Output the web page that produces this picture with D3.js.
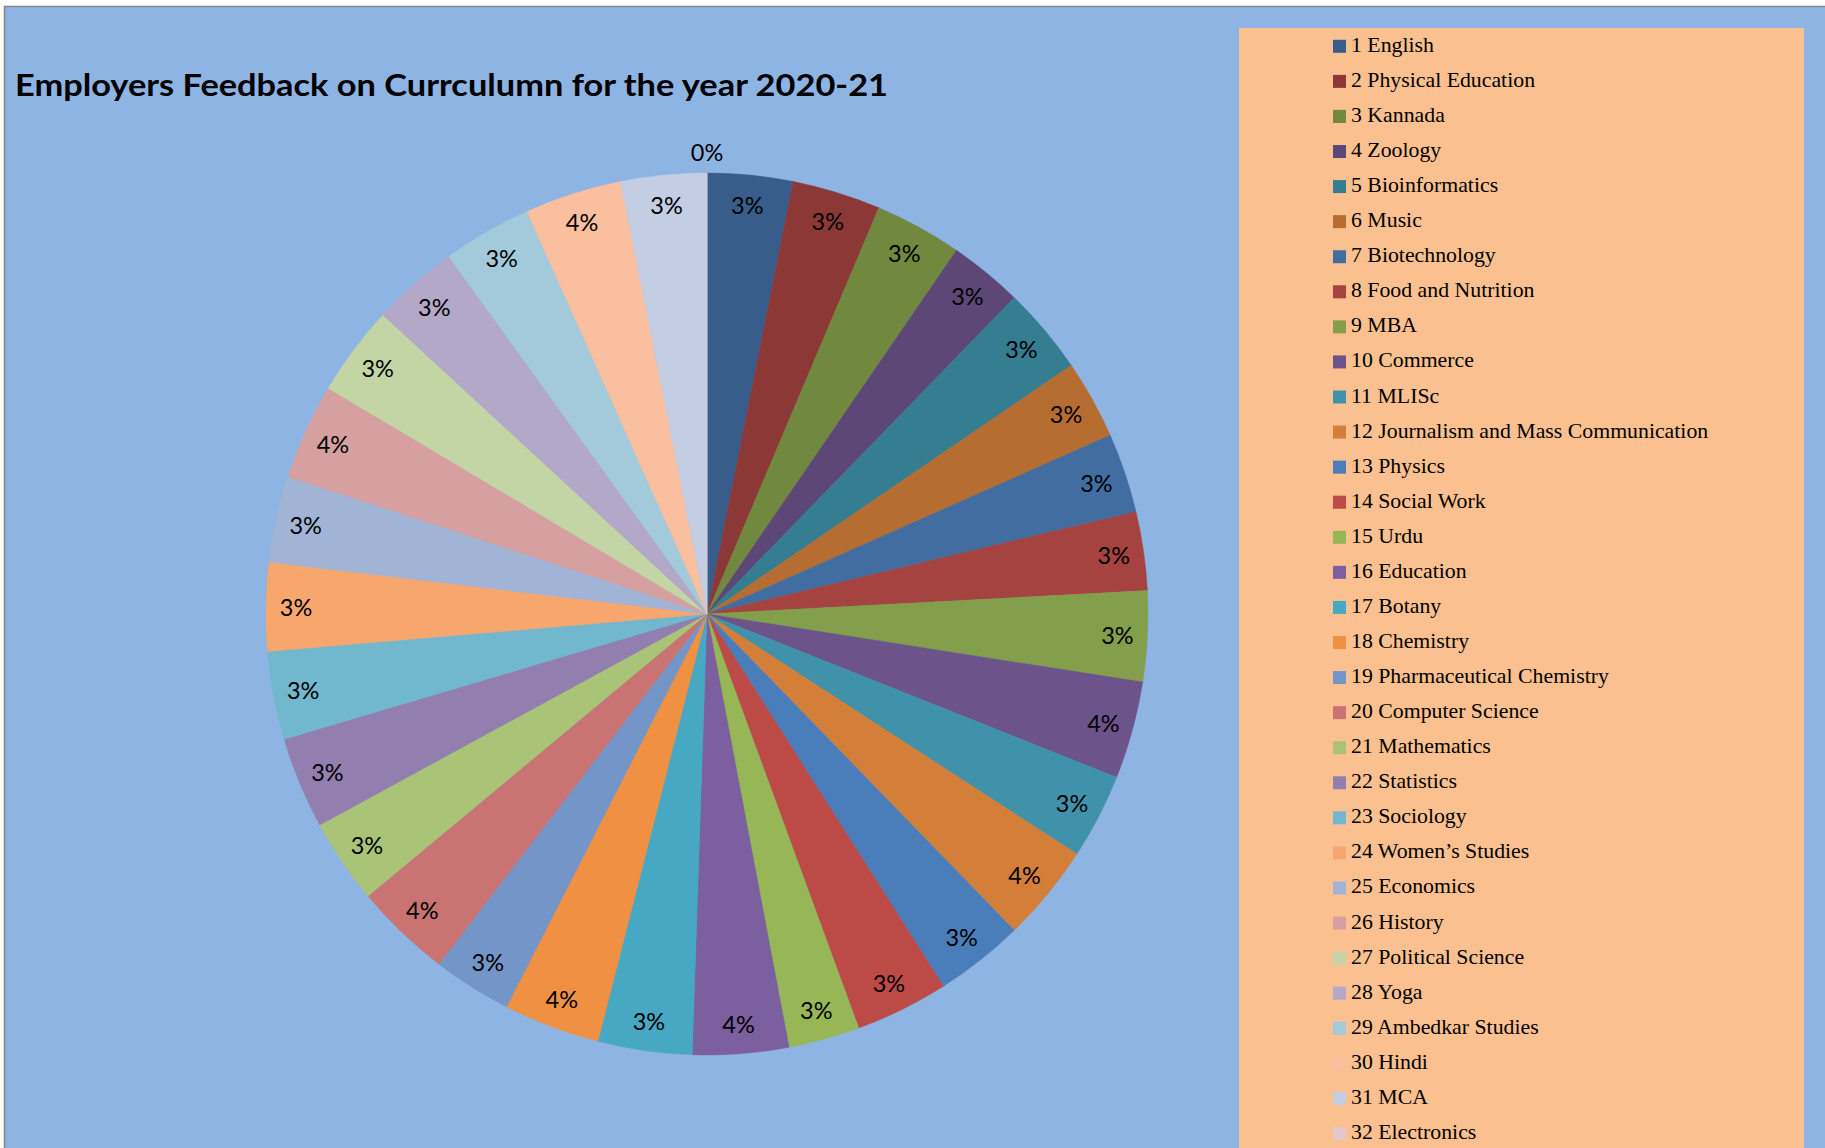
<!DOCTYPE html>
<html>
<head>
<meta charset="utf-8">
<script src="https://cdn.jsdelivr.net/npm/d3@7"></script>
<style>
  html, body { margin: 0; padding: 0; background: #ffffff; }
  svg { display: block; }
</style>
</head>
<body>
<svg id="chart" width="1825" height="1148"></svg>
<script>
// ---- data ----
const titleText = "Employers Feedback on Currculumn for the year 2020-21";
const categories = [
  "1 English", "2 Physical Education", "3 Kannada", "4 Zoology", "5 Bioinformatics",
  "6 Music", "7 Biotechnology", "8 Food and Nutrition", "9 MBA", "10 Commerce",
  "11 MLISc", "12 Journalism and Mass Communication", "13 Physics", "14 Social Work",
  "15 Urdu", "16 Education", "17 Botany", "18 Chemistry", "19 Pharmaceutical Chemistry",
  "20 Computer Science", "21 Mathematics", "22 Statistics", "23 Sociology",
  "24 Women\u2019s Studies", "25 Economics", "26 History", "27 Political Science",
  "28 Yoga", "29 Ambedkar Studies", "30 Hindi", "31 MCA", "32 Electronics"
];
const values = [
  11.26, 11.68, 11.52, 9.71, 11.51, 10.43, 10.48, 10.38, 11.93, 12.85,
  11.25, 12.85, 11.75, 12.30, 9.40, 12.65, 12.40, 12.72, 10.40, 12.80,
  11.18, 12.08, 11.62, 11.65, 11.40, 12.65, 11.90, 11.45, 11.75, 12.80,
  11.30, 0
];
const colors = [
  "#385D8A", "#8C3836", "#71893F", "#5C4776", "#357D91", "#B66D31", "#426DA1", "#A44340",
  "#849F4B", "#6C548A", "#3F92A9", "#D37F3A", "#4A7EBB", "#BC4B48", "#97B655", "#7C5F9E",
  "#46A8C2", "#EF9042", "#7495C7", "#C97472", "#A9C476", "#927FAF", "#71B7CE", "#F7A76E",
  "#A2B4D6", "#D7A0A0", "#C3D5A5", "#B3A8C7", "#A2CADB", "#F9BF9F", "#C3CDE3", "#E3C7CB"
];

// ---- layout ----
const svg = d3.select("#chart");
const cx = 707, cy = 614, R = 441;

svg.append("rect")
  .attr("x", 4.5).attr("y", 6.5)
  .attr("width", 1830).attr("height", 1150)
  .attr("fill", "#8EB4E3")
  .attr("stroke", "#868686").attr("stroke-width", 1.5);

// title
svg.append("text")
  .attr("x", 15).attr("y", 96)
  .attr("font-family", "Lato, 'Open Sans', sans-serif")
  .attr("font-weight", 700)
  .attr("font-size", 30.5)
  .attr("textLength", 873)
  .attr("lengthAdjust", "spacingAndGlyphs")
  .attr("fill", "#000")
  .text(titleText);

// pie
const total = d3.sum(values);
const pie = d3.pie().sort(null).value(d => d).startAngle(0).endAngle(2 * Math.PI);
const arcs = pie(values);
const arc = d3.arc().innerRadius(0).outerRadius(R);
const labelArc = d3.arc().innerRadius(411).outerRadius(411);
const outerLabelArc = d3.arc().innerRadius(R + 21).outerRadius(R + 21);
const color = d3.scaleOrdinal().domain(categories).range(colors);

const g = svg.append("g").attr("transform", `translate(${cx},${cy})`);
g.selectAll("path.slice")
  .data(arcs)
  .join("path")
  .attr("class", "slice")
  .attr("d", arc)
  .attr("fill", (d, i) => color(categories[i]))
  .attr("stroke", (d, i) => color(categories[i]))
  .attr("stroke-width", 0.5);

g.selectAll("text.lbl")
  .data(arcs)
  .join("text")
  .attr("class", "lbl")
  .attr("transform", d => {
    const c = (d.value === 0 ? outerLabelArc : labelArc).centroid(d);
    return `translate(${c[0]},${c[1]})`;
  })
  .attr("text-anchor", "middle")
  .attr("dominant-baseline", "central")
  .attr("font-family", "Lato, 'Open Sans', sans-serif")
  .attr("font-size", 23.5)
  .attr("fill", "#000")
  .text(d => Math.round(d.value / total * 100) + "%");

// legend
const legX = 1239, legY = 28, legW = 565;
svg.append("rect")
  .attr("x", legX).attr("y", legY)
  .attr("width", legW).attr("height", 1200)
  .attr("fill", "#FAC090");

const rowY = d3.scaleLinear().domain([0, categories.length - 1]).range([46.3, 46.3 + 35.07 * 31]);
const leg = svg.append("g");
const items = leg.selectAll("g.item")
  .data(categories)
  .join("g")
  .attr("class", "item")
  .attr("transform", (d, i) => `translate(0,${rowY(i)})`);
items.append("rect")
  .attr("x", 1333).attr("y", -6.5)
  .attr("width", 13).attr("height", 13)
  .attr("fill", d => color(d));
items.append("text")
  .attr("x", 1351).attr("y", 5.5)
  .attr("font-family", "'Liberation Serif', 'DejaVu Serif', serif")
  .attr("font-size", 21.8)
  .attr("fill", "#000")
  .text(d => d);
</script>
</body>
</html>
